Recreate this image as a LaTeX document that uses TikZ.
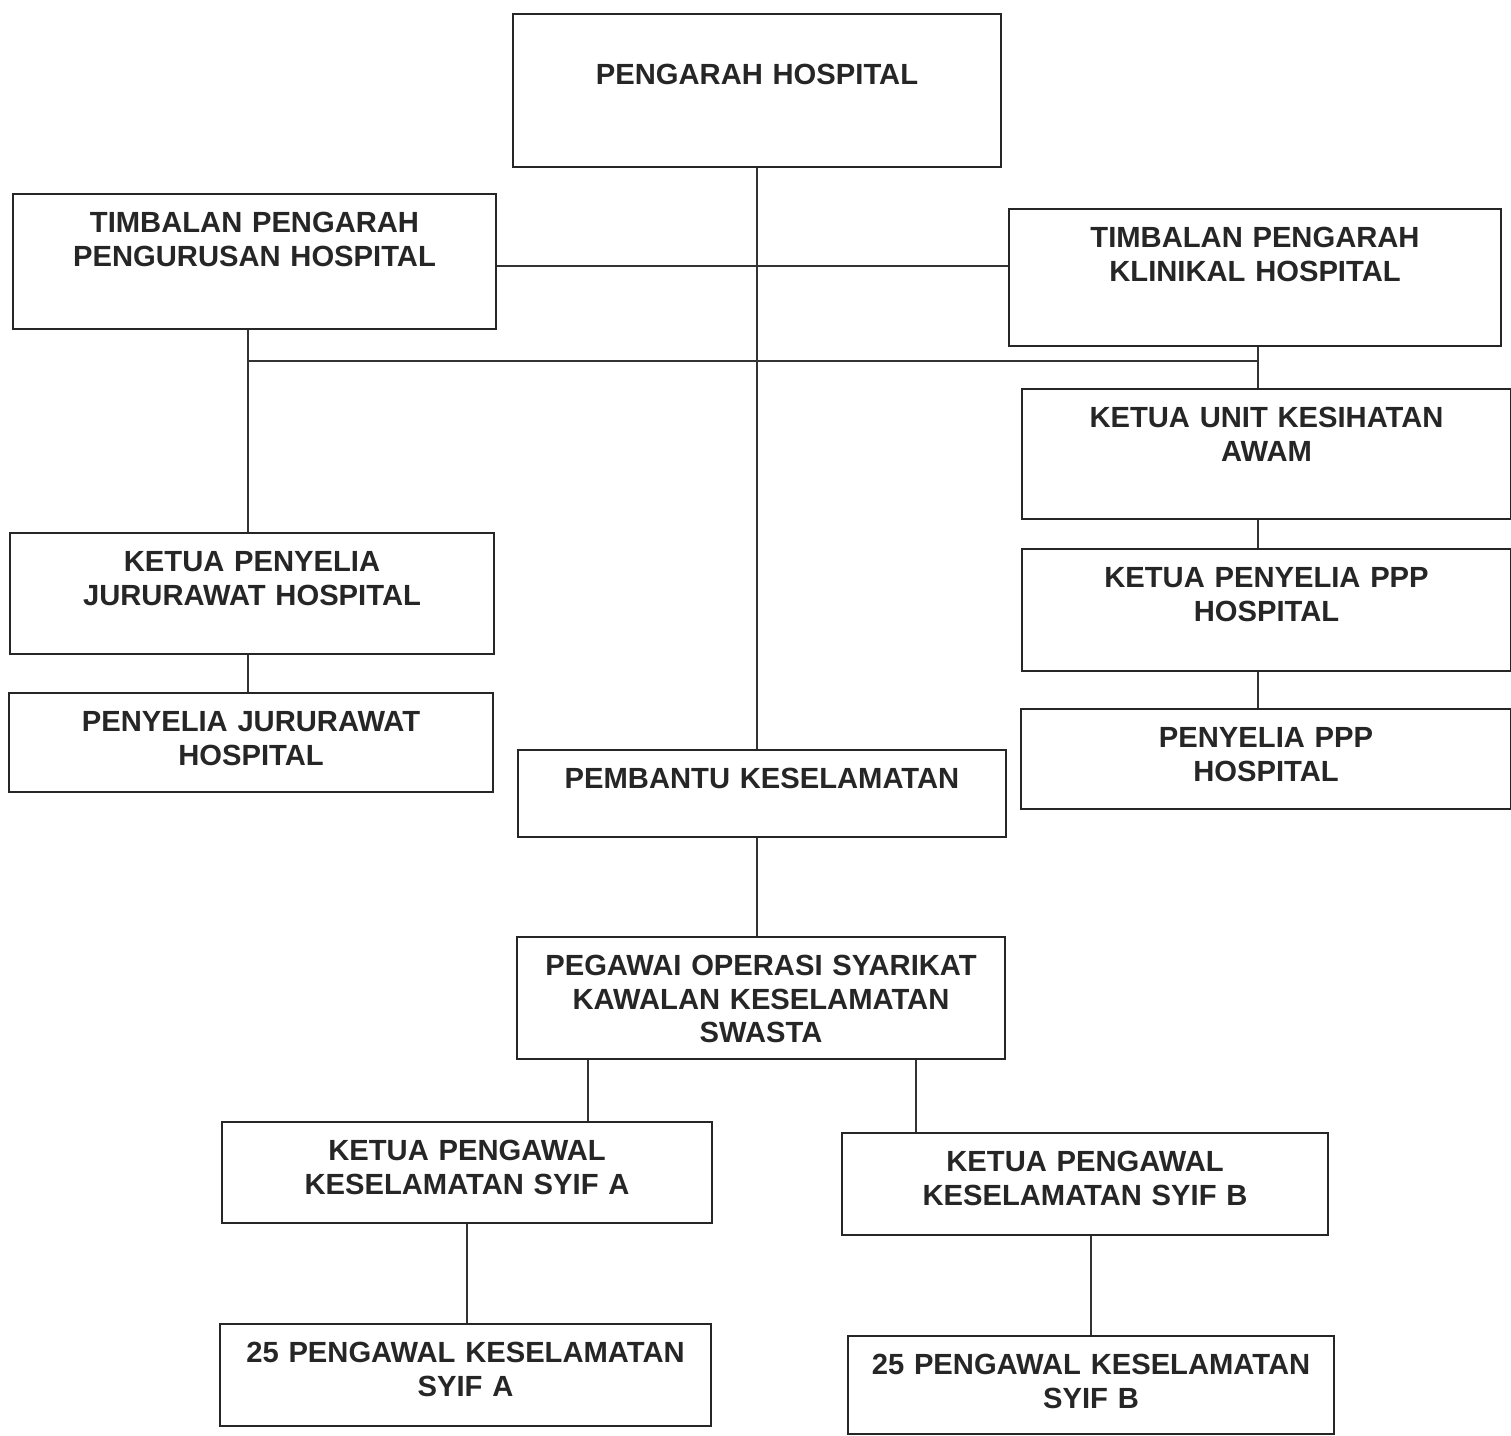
\documentclass[tikz,border=0pt]{standalone}
\usepackage{fontspec}
\setmainfont{Liberation Sans}
\usetikzlibrary{positioning}

\tikzset{
	box/.style={draw=black!85, line width=0.5pt, inner sep=0pt, anchor=north west,
		align=center, text height=0.39cm, text=black!85,
		font=\bfseries\fontsize{8.3}{9.5}\selectfont},
	link/.style={draw=black!80, line width=0.45pt},
}

\begin{document}
\begin{tikzpicture}[x=0.01cm, y=-0.01cm]
	\useasboundingbox (0,0) rectangle (1511,1436);
	% top level
	\node[box, text width=4.88cm, text height=0.71cm, text depth=0.82cm] (ph) at (512,13) {PENGARAH HOSPITAL};
	\node[box, text width=4.83cm, text depth=0.96cm] (tpp) at (12,193) {TIMBALAN PENGARAH\\PENGURUSAN HOSPITAL};
	\node[box, text width=4.92cm, text depth=0.98cm] (tpk) at (1008,208) {TIMBALAN PENGARAH\\KLINIKAL HOSPITAL};
	% right column
	\node[box, text width=4.89cm, text depth=0.91cm] (kuka) at (1021,388) {KETUA UNIT KESIHATAN\\AWAM};
	\node[box, text width=4.89cm, text depth=0.83cm] (kppp) at (1021,548) {KETUA PENYELIA PPP\\HOSPITAL};
	\node[box, text width=4.90cm, text depth=0.61cm] (pppp) at (1020,708) {PENYELIA PPP\\HOSPITAL};
	% left column
	\node[box, text width=4.84cm, text depth=0.82cm] (kpj) at (9,532) {KETUA PENYELIA\\JURURAWAT HOSPITAL};
	\node[box, text width=4.84cm, text depth=0.60cm] (pj) at (8,692) {PENYELIA JURURAWAT\\HOSPITAL};
	% middle column
	\node[box, text width=4.88cm, text depth=0.48cm] (pk) at (517,749) {PEMBANTU KESELAMATAN};
	\node[box, text width=4.88cm, text depth=0.83cm] (pos) at (516,936) {PEGAWAI OPERASI SYARIKAT\\KAWALAN KESELAMATAN\\SWASTA};
	% shifts
	\node[box, text width=4.90cm, text depth=0.62cm] (kpa) at (221,1121) {KETUA PENGAWAL\\KESELAMATAN SYIF A};
	\node[box, text width=4.86cm, text depth=0.63cm] (kpb) at (841,1132) {KETUA PENGAWAL\\KESELAMATAN SYIF B};
	\node[box, text width=4.91cm, text depth=0.63cm] (pa) at (219,1323) {25 PENGAWAL KESELAMATAN\\SYIF A};
	\node[box, text width=4.86cm, text depth=0.59cm] (pb) at (847,1335) {25 PENGAWAL KESELAMATAN\\SYIF B};

	\coordinate (mid) at (756,266);
	\coordinate (jl) at (248,361);
	\coordinate (jr) at (1258,361);
	\coordinate (ca) at (588,1090);
	\coordinate (cb) at (916,1090);

	\draw[link] (ph.south) -- (ph.south |- pk.north);
	\draw[link] (tpp.east |- mid) -- (tpk.west |- mid);
	\draw[link] (jl) -- (jr);
	\draw[link] (tpp.south -| jl) -- (jl |- kpj.north);
	\draw[link] (kpj.south -| jl) -- (jl |- pj.north);
	\draw[link] (tpk.south -| jr) -- (jr |- kuka.north);
	\draw[link] (kuka.south -| jr) -- (jr |- kppp.north);
	\draw[link] (kppp.south -| jr) -- (jr |- pppp.north);
	\draw[link] (pk.south -| ph.south) -- (ph.south |- pos.north);
	\draw[link] (pos.south -| ca) -- (ca |- kpa.north);
	\draw[link] (pos.south -| cb) -- (cb |- kpb.north);
	\draw[link] (kpa.south) -- (kpa.south |- pa.north);
	\draw[link] (pb.north |- kpb.south) -- (pb.north);
\end{tikzpicture}
\end{document}
